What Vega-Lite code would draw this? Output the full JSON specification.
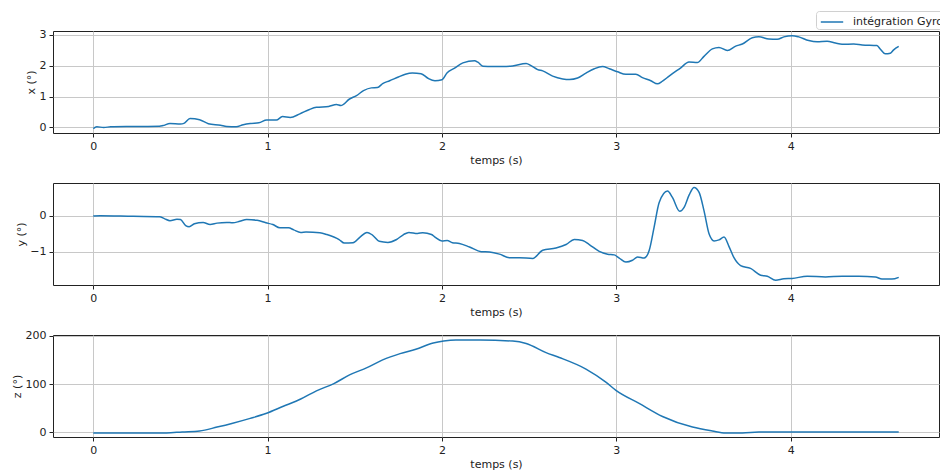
{
  "$schema": "https://vega.github.io/schema/vega-lite/v6.json",
  "padding": {"left": 10, "top": 10, "right": 0, "bottom": 0},
  "spacing": 50,
  "bounds": "flush",
  "background": "white",
  "resolve": {"scale": {"color": "independent"}, "legend": {"color": "independent"}},
  "datasets": {
    "gx": [
      {"t":0,"v":-0.04},{"t":0.02,"v":0.02},{"t":0.06,"v":0.0},{"t":0.1,"v":0.02},{"t":0.23,"v":0.03},{"t":0.38,"v":0.04},{"t":0.40,"v":0.06},{"t":0.44,"v":0.13},{"t":0.50,"v":0.11},{"t":0.52,"v":0.13},{"t":0.555,"v":0.29},{"t":0.61,"v":0.25},{"t":0.66,"v":0.12},{"t":0.73,"v":0.07},{"t":0.765,"v":0.03},{"t":0.82,"v":0.02},{"t":0.86,"v":0.09},{"t":0.90,"v":0.13},{"t":0.95,"v":0.15},{"t":0.995,"v":0.24},{"t":1.05,"v":0.24},{"t":1.085,"v":0.35},{"t":1.13,"v":0.32},{"t":1.185,"v":0.44},{"t":1.24,"v":0.58},{"t":1.28,"v":0.65},{"t":1.35,"v":0.68},{"t":1.395,"v":0.74},{"t":1.42,"v":0.71},{"t":1.47,"v":0.92},{"t":1.51,"v":1.03},{"t":1.55,"v":1.19},{"t":1.595,"v":1.28},{"t":1.63,"v":1.29},{"t":1.66,"v":1.42},{"t":1.70,"v":1.51},{"t":1.75,"v":1.63},{"t":1.79,"v":1.72},{"t":1.83,"v":1.76},{"t":1.88,"v":1.74},{"t":1.92,"v":1.59},{"t":1.96,"v":1.51},{"t":2.0,"v":1.54},{"t":2.03,"v":1.77},{"t":2.07,"v":1.91},{"t":2.12,"v":2.09},{"t":2.187,"v":2.16},{"t":2.206,"v":2.11},{"t":2.235,"v":1.98},{"t":2.292,"v":1.97},{"t":2.349,"v":1.97},{"t":2.406,"v":1.99},{"t":2.483,"v":2.07},{"t":2.511,"v":2.0},{"t":2.549,"v":1.87},{"t":2.578,"v":1.83},{"t":2.635,"v":1.66},{"t":2.693,"v":1.57},{"t":2.731,"v":1.55},{"t":2.778,"v":1.60},{"t":2.826,"v":1.76},{"t":2.874,"v":1.90},{"t":2.921,"v":1.97},{"t":2.960,"v":1.90},{"t":3.007,"v":1.80},{"t":3.055,"v":1.72},{"t":3.112,"v":1.72},{"t":3.150,"v":1.61},{"t":3.198,"v":1.51},{"t":3.236,"v":1.41},{"t":3.265,"v":1.50},{"t":3.303,"v":1.66},{"t":3.370,"v":1.93},{"t":3.417,"v":2.12},{"t":3.465,"v":2.10},{"t":3.503,"v":2.30},{"t":3.551,"v":2.54},{"t":3.589,"v":2.59},{"t":3.637,"v":2.49},{"t":3.685,"v":2.63},{"t":3.723,"v":2.70},{"t":3.780,"v":2.90},{"t":3.818,"v":2.93},{"t":3.875,"v":2.86},{"t":3.923,"v":2.85},{"t":3.961,"v":2.93},{"t":4.009,"v":2.97},{"t":4.047,"v":2.93},{"t":4.104,"v":2.81},{"t":4.152,"v":2.77},{"t":4.209,"v":2.79},{"t":4.257,"v":2.73},{"t":4.295,"v":2.69},{"t":4.362,"v":2.70},{"t":4.410,"v":2.67},{"t":4.495,"v":2.65},{"t":4.515,"v":2.53},{"t":4.543,"v":2.38},{"t":4.572,"v":2.40},{"t":4.591,"v":2.51},{"t":4.620,"v":2.62}
    ],
    "gy": [
      {"t":0,"v":0.0},{"t":0.04,"v":0.01},{"t":0.23,"v":-0.01},{"t":0.38,"v":-0.02},{"t":0.41,"v":-0.08},{"t":0.44,"v":-0.13},{"t":0.48,"v":-0.09},{"t":0.50,"v":-0.10},{"t":0.53,"v":-0.27},{"t":0.55,"v":-0.30},{"t":0.58,"v":-0.22},{"t":0.63,"v":-0.18},{"t":0.67,"v":-0.24},{"t":0.71,"v":-0.20},{"t":0.765,"v":-0.18},{"t":0.80,"v":-0.19},{"t":0.84,"v":-0.15},{"t":0.88,"v":-0.10},{"t":0.94,"v":-0.12},{"t":0.99,"v":-0.19},{"t":1.03,"v":-0.24},{"t":1.07,"v":-0.33},{"t":1.12,"v":-0.33},{"t":1.15,"v":-0.39},{"t":1.19,"v":-0.46},{"t":1.22,"v":-0.45},{"t":1.30,"v":-0.47},{"t":1.34,"v":-0.52},{"t":1.38,"v":-0.59},{"t":1.41,"v":-0.66},{"t":1.44,"v":-0.76},{"t":1.49,"v":-0.75},{"t":1.53,"v":-0.59},{"t":1.57,"v":-0.46},{"t":1.60,"v":-0.53},{"t":1.64,"v":-0.71},{"t":1.69,"v":-0.74},{"t":1.74,"v":-0.66},{"t":1.78,"v":-0.52},{"t":1.81,"v":-0.46},{"t":1.86,"v":-0.49},{"t":1.89,"v":-0.47},{"t":1.94,"v":-0.52},{"t":1.96,"v":-0.59},{"t":2.0,"v":-0.70},{"t":2.03,"v":-0.69},{"t":2.06,"v":-0.75},{"t":2.10,"v":-0.77},{"t":2.158,"v":-0.87},{"t":2.225,"v":-1.0},{"t":2.273,"v":-1.01},{"t":2.330,"v":-1.07},{"t":2.387,"v":-1.17},{"t":2.444,"v":-1.17},{"t":2.521,"v":-1.19},{"t":2.578,"v":-0.96},{"t":2.654,"v":-0.90},{"t":2.712,"v":-0.80},{"t":2.759,"v":-0.66},{"t":2.807,"v":-0.69},{"t":2.845,"v":-0.80},{"t":2.902,"v":-0.99},{"t":2.950,"v":-1.07},{"t":2.988,"v":-1.09},{"t":3.017,"v":-1.18},{"t":3.055,"v":-1.29},{"t":3.093,"v":-1.24},{"t":3.122,"v":-1.15},{"t":3.160,"v":-1.18},{"t":3.189,"v":-0.96},{"t":3.217,"v":-0.31},{"t":3.246,"v":0.38},{"t":3.294,"v":0.70},{"t":3.322,"v":0.52},{"t":3.364,"v":0.13},{"t":3.389,"v":0.24},{"t":3.418,"v":0.59},{"t":3.446,"v":0.80},{"t":3.475,"v":0.66},{"t":3.503,"v":0.15},{"t":3.532,"v":-0.50},{"t":3.561,"v":-0.70},{"t":3.589,"v":-0.67},{"t":3.618,"v":-0.59},{"t":3.646,"v":-0.85},{"t":3.675,"v":-1.17},{"t":3.713,"v":-1.39},{"t":3.770,"v":-1.47},{"t":3.828,"v":-1.66},{"t":3.866,"v":-1.69},{"t":3.914,"v":-1.80},{"t":3.961,"v":-1.76},{"t":4.009,"v":-1.75},{"t":4.095,"v":-1.69},{"t":4.200,"v":-1.71},{"t":4.295,"v":-1.69},{"t":4.391,"v":-1.69},{"t":4.486,"v":-1.71},{"t":4.524,"v":-1.77},{"t":4.581,"v":-1.77},{"t":4.620,"v":-1.72}
    ],
    "gz": [
      {"t":0,"v":-1},{"t":0.42,"v":-1},{"t":0.51,"v":1},{"t":0.61,"v":3},{"t":0.71,"v":11},{"t":0.80,"v":19},{"t":0.90,"v":29},{"t":0.99,"v":39},{"t":1.09,"v":54},{"t":1.19,"v":69},{"t":1.28,"v":86},{"t":1.38,"v":101},{"t":1.47,"v":119},{"t":1.57,"v":134},{"t":1.66,"v":150},{"t":1.76,"v":163},{"t":1.85,"v":172},{"t":1.95,"v":185},{"t":2.01,"v":189},{"t":2.08,"v":191},{"t":2.22,"v":191},{"t":2.406,"v":189},{"t":2.483,"v":184},{"t":2.597,"v":165},{"t":2.673,"v":155},{"t":2.826,"v":131},{"t":2.940,"v":104},{"t":2.998,"v":87},{"t":3.131,"v":60},{"t":3.265,"v":33},{"t":3.437,"v":11},{"t":3.551,"v":3},{"t":3.627,"v":-1},{"t":3.723,"v":-1},{"t":3.818,"v":1},{"t":4.009,"v":1},{"t":4.620,"v":1}
    ]
  },
  "vconcat": [
    {
      "width": 886, "height": 102,
      "data": {"name": "gx"},
      "mark": {"type": "line", "strokeWidth": 1.5, "interpolate": "monotone", "clip": true},
      "encoding": {
        "x": {"field": "t", "type": "quantitative", "title": "temps (s)", "scale": {"domain": [-0.231, 4.851], "nice": false, "zero": false}, "axis": {"values": [0, 1, 2, 3, 4], "format": "d"}},
        "y": {"field": "v", "type": "quantitative", "title": "x (°)", "scale": {"domain": [-0.18, 3.12], "nice": false, "zero": false}, "axis": {"values": [0, 1, 2, 3], "format": "d"}},
        "color": {"datum": "intégration Gyroscope", "type": "nominal", "scale": {"range": ["#1f77b4"]}, "legend": {"orient": "none", "legendX": 763, "legendY": -20, "title": null}}
      }
    },
    {
      "width": 886, "height": 102,
      "data": {"name": "gy"},
      "mark": {"type": "line", "strokeWidth": 1.5, "interpolate": "monotone", "color": "#1f77b4", "clip": true},
      "encoding": {
        "x": {"field": "t", "type": "quantitative", "title": "temps (s)", "scale": {"domain": [-0.231, 4.851], "nice": false, "zero": false}, "axis": {"values": [0, 1, 2, 3, 4], "format": "d"}},
        "y": {"field": "v", "type": "quantitative", "title": "y (°)", "scale": {"domain": [-1.935, 0.925], "nice": false, "zero": false}, "axis": {"values": [-1, 0], "format": "d"}}
      }
    },
    {
      "width": 886, "height": 102,
      "data": {"name": "gz"},
      "mark": {"type": "line", "strokeWidth": 1.5, "interpolate": "monotone", "color": "#1f77b4", "clip": true},
      "encoding": {
        "x": {"field": "t", "type": "quantitative", "title": "temps (s)", "scale": {"domain": [-0.231, 4.851], "nice": false, "zero": false}, "axis": {"values": [0, 1, 2, 3, 4], "format": "d"}},
        "y": {"field": "v", "type": "quantitative", "title": "z (°)", "scale": {"domain": [-9.5, 201.5], "nice": false, "zero": false}, "axis": {"values": [0, 100, 200], "format": "d"}}
      }
    }
  ],
  "config": {
    "font": "DejaVu Sans",
    "view": {"stroke": "#222", "strokeWidth": 1},
    "axis": {
      "domain": false,
      "grid": true,
      "gridColor": "#c8c8c8",
      "gridWidth": 1,
      "tickColor": "#222",
      "tickSize": 4,
      "labelFontSize": 11,
      "labelColor": "#222",
      "labelPadding": 3,
      "titleFontSize": 11,
      "titleFontWeight": "normal",
      "titleColor": "#222",
      "titlePadding": 3
    },
    "legend": {
      "strokeColor": "#d0d0d0",
      "fillColor": "white",
      "cornerRadius": 3,
      "padding": 2,
      "symbolType": "M-1.4,0H1.4",
      "symbolStrokeWidth": 1.5,
      "symbolSize": 256,
      "symbolOffset": 5,
      "labelOffset": 12,
      "labelFontSize": 11,
      "labelColor": "#222"
    }
  }
}
